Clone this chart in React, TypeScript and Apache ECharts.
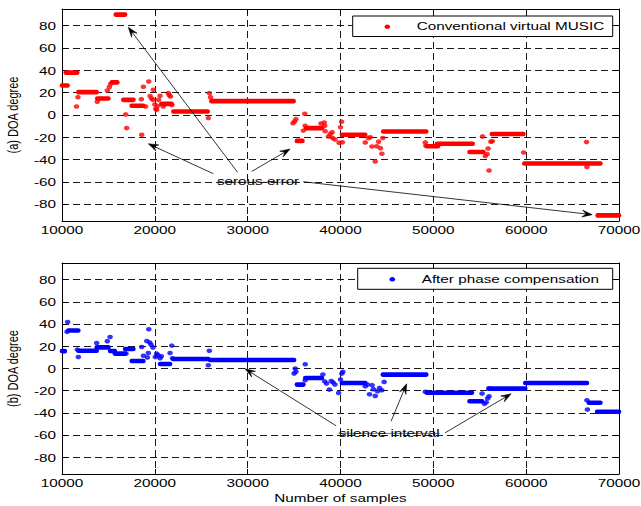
import React, { useEffect, useRef } from "react";
import * as echarts from "echarts";

// ---------------- data ----------------
const xTicks = [10000, 20000, 30000, 40000, 50000, 60000, 70000];
const yTicks = [-80, -60, -40, -20, 0, 20, 40, 60, 80];

const topName = "Conventional virtual MUSIC";
const bottomName = "After phase compensation";
const topYName = "(a) DOA degree";
const bottomYName = "(b) DOA degree";
const xName = "Number of samples";

// runs of dense estimates: [startSample, endSample, degree]
const musicRuns: [number, number, number][] = [
  [10000, 10600, 26.4], [10400, 11650, 38], [11760, 13740, 20.5], [13800, 15000, 14.8],
  [15360, 15960, 29.2], [15790, 16800, 90], [16600, 17700, 13.6], [17500, 18770, 8.3],
  [20700, 21800, 10], [22000, 25700, 3.2], [26100, 34950, 12.4], [35300, 35900, -23.2],
  [36300, 38000, -11.8], [40150, 42670, -17.7], [44600, 49240, -14.8], [49300, 50500, -28],
  [50400, 54240, -25.8], [53900, 55400, -33.2], [56300, 59700, -17], [59800, 68000, -43.5],
  [67700, 70000, -90],
];
const musicPoints: [number, number][] = [
  [11560, 7.6], [11720, 16], [13800, 11.8], [14880, 22], [15100, 25], [15250, 28],
  [16860, 0.5], [16970, -11.7], [18550, 14.2], [18590, -17.7], [18770, 25.3], [19000, 7.6],
  [19350, 30], [19490, 17], [19650, 14.8], [19840, 22.6], [19800, 13.6], [20000, 9.4],
  [20100, 5.5], [20200, 4.6], [20300, 8], [20400, 13.6], [20560, 17.2], [20900, 7.6],
  [21460, 19.6], [21550, 18], [21680, 16.6], [21850, 9], [25760, -2.8], [25870, 19.6],
  [26000, 16], [34880, -7.3], [35050, -5.9], [35200, -3.7], [36150, 1.1], [36000, -14],
  [36190, -9.7], [37900, -7.6], [38250, -6.7], [38300, -9.7], [38350, -14.5], [38700, -19.2],
  [38900, -17], [39100, -15.4], [39150, -20.7], [39400, -22], [39850, -24.8], [40000, -11],
  [40120, -6], [40200, -24.5], [42670, -24.6], [43000, -20.7], [43200, -20], [43390, -28.2],
  [43740, -41.6], [43900, -28], [44100, -23.9], [44300, -29.8], [44460, -34.7], [44560, -20.7],
  [49130, -24.6], [49200, -27.5], [55300, -19.2], [55600, -36.8], [55800, -35], [55900, -30],
  [56000, -49.7], [56200, -24], [56350, -23.5], [59730, -33.6], [66500, -24.3], [66550, -46.6],
];

const compRuns: [number, number, number][] = [
  [10000, 10300, 15.8], [10680, 11760, 34.2], [11760, 13740, 16], [13740, 15000, 19],
  [15180, 15690, 15.8], [15690, 16800, 13.4], [16800, 17690, 17.6], [17510, 18770, 6.8],
  [20560, 21640, 4], [21980, 25760, 8.6], [25950, 35000, 7.6], [35300, 36010, -14.5],
  [36200, 38000, -8.5], [40150, 42670, -13], [44560, 49240, -5.5], [49300, 54160, -21.8],
  [53900, 55250, -29.5], [55950, 59900, -18.1], [59900, 66550, -13], [66750, 68000, -30.8],
  [67640, 70000, -39],
];
const compPoints: [number, number][] = [
  [10250, 15.5], [10540, 33], [10610, 41.9], [11650, 17], [11760, 10.4], [13740, 23],
  [14880, 24.6], [15180, 28.4], [16900, 13.4], [18590, 19.4], [18770, 11.5], [19130, 24.8],
  [19300, 14], [19350, 35.3], [19450, 23.4], [19600, 21.4], [19800, 19], [19200, 10],
  [20050, 10.4], [20200, 13.4], [20350, 12], [20560, 9.2], [20700, 11], [21640, 14],
  [21820, 20.6], [21900, 9.2], [25760, 2.9], [25870, 16], [35000, -4.6], [35120, 0],
  [35200, -2.9], [36200, 3.8], [36200, -10.6], [38100, -5.5], [38300, -11.6], [38500, -13.6],
  [38800, -19], [39000, -11.3], [39200, -12.5], [39400, -14.5], [39800, -22], [40000, -10],
  [40150, -4.6], [40250, -3], [42670, -16], [42900, -14.5], [43130, -23.2], [43400, -15],
  [43550, -18.6], [43740, -24.7], [44000, -20.5], [44200, -17.5], [44450, -19.6], [44700, -12.1],
  [49130, -21], [55250, -22.6], [55500, -31.8], [55700, -30.5], [55850, -27], [56000, -25],
  [56000, -18], [66550, -28.6], [66600, -37],
];

// annotations (data coordinates)
const topNote = "serous error";
const topNoteAt: [number, number] = [31120, -59.8];
const topArrowFrom: [number, number][] = [[28910, -51.3], [26300, -52.6], [30440, -50.6], [35970, -59.8]];
const topArrowTo: [number, number][] = [[17140, 78.7], [19300, -25.8], [34570, -30.5], [67110, -89.3]];
const bottomNote = "silence interval";
const bottomNoteAt: [number, number] = [45240, -58];
const bottomArrowFrom: [number, number][] = [[39530, -51.6], [45450, -47.5], [51270, -57.9]];
const bottomArrowTo: [number, number][] = [[29720, -0.3], [47120, -13.8], [58380, -22.8]];

// ---------------- style / layout ----------------
const FONT = "Liberation Sans, Arial, sans-serif";
const SX = 1.39;
const RED = "#ff0000";
const BLUE = "#0000ff";
const GRID_COLOR = "#1a1a1a";
const GRIDS = [
  { left: 62, top: 9, width: 557, height: 212 },
  { left: 62, top: 263, width: 557, height: 211 },
];

function runSeries(name: string, data: [number, number, number][], axis: number, color: string) {
  return {
    type: "custom",
    name: name + " runs",
    xAxisIndex: axis,
    yAxisIndex: axis,
    clip: false,
    encode: { x: [0, 1], y: 2 },
    data,
    renderItem: (_p: any, api: any) => {
      const a = api.coord([api.value(0), api.value(2)]);
      const b = api.coord([api.value(1), api.value(2)]);
      return {
        type: "line",
        shape: { x1: a[0], y1: a[1], x2: b[0], y2: b[1] },
        style: { stroke: color, lineWidth: 4.6, lineCap: "round" },
      };
    },
  };
}

function xAxes(grid: number) {
  const base = {
    gridIndex: grid,
    type: "value",
    min: 10000,
    max: 70000,
    interval: 10000,
    axisLine: { show: true, onZero: false, lineStyle: { color: "#000", width: 1 } },
    axisTick: { show: true, inside: true, length: 5, lineStyle: { color: "#000" } },
    axisLabel: { show: false },
  };
  return [
    { ...base, position: "bottom", splitLine: { show: true, lineStyle: { color: GRID_COLOR, type: [7, 4], width: 1 } } },
    { ...base, position: "top", splitLine: { show: false } },
  ];
}
function yAxes(grid: number) {
  const base = {
    gridIndex: grid,
    type: "value",
    min: -95,
    max: 95,
    splitNumber: 10,
    axisLine: { show: true, onZero: false, lineStyle: { color: "#000", width: 1 } },
    axisTick: { show: true, inside: true, length: 5, lineStyle: { color: "#000" } },
    axisLabel: { show: false },
  };
  return [
    { ...base, position: "left", splitLine: { show: true, lineStyle: { color: GRID_COLOR, type: [7, 4], width: 1 } } },
    { ...base, position: "right", splitLine: { show: false } },
  ];
}

function textEl(text: string, x: number, y: number, align: string, extra: any = {}) {
  return {
    type: "text",
    x,
    y,
    scaleX: SX,
    z: 100,
    style: { text, fill: "#000", font: `11px ${FONT}`, textAlign: align, textVerticalAlign: "middle", verticalAlign: "middle" },
    ...extra,
  };
}

function arrowEls(p0: number[], p1: number[]) {
  const dx = p1[0] - p0[0];
  const dy = p1[1] - p0[1];
  const len = Math.hypot(dx, dy);
  const ux = dx / len, uy = dy / len;
  const nx = -uy, ny = ux;
  const L = 10, W = 3.4;
  const bx = p1[0] - L * ux, by = p1[1] - L * uy;
  const notch = [p1[0] - 0.6 * L * ux, p1[1] - 0.6 * L * uy];
  return [
    { type: "line", z: 90, shape: { x1: p0[0], y1: p0[1], x2: notch[0], y2: notch[1] }, style: { stroke: "#000", lineWidth: 0.8 } },
    {
      type: "polygon",
      z: 91,
      shape: { points: [[p1[0], p1[1]], [bx + W * nx, by + W * ny], notch, [bx - W * nx, by - W * ny]] },
      style: { fill: "#000", stroke: "#000", lineWidth: 0.6 },
    },
  ];
}

function measure(text: string) {
  const c = document.createElement("canvas").getContext("2d");
  if (!c) return text.length * 6;
  c.font = `11px ${FONT}`;
  return c.measureText(text).width;
}

export default function App() {
  const ref = useRef<HTMLDivElement>(null);
  useEffect(() => {
    document.body.style.margin = "0";
    const chart = echarts.init(ref.current!, null, { renderer: "svg" });
    chart.setOption({
      animation: false,
      backgroundColor: "#fff",
      grid: GRIDS.map((g) => ({ ...g, containLabel: false })),
      xAxis: [...xAxes(0), ...xAxes(1)],
      yAxis: [...yAxes(0), ...yAxes(1)],
      series: [
        runSeries(topName, musicRuns, 0, RED),
        { type: "scatter", name: topName, xAxisIndex: 0, yAxisIndex: 0, data: musicPoints, symbol: "circle", symbolSize: [5.6, 4.6], itemStyle: { color: RED }, silent: true },
        runSeries(bottomName, compRuns, 2, BLUE),
        { type: "scatter", name: bottomName, xAxisIndex: 2, yAxisIndex: 2, data: compPoints, symbol: "circle", symbolSize: [5.6, 4.6], itemStyle: { color: BLUE }, silent: true },
      ],
    });

    const els: any[] = [];
    const panels = [
      { axis: 0, name: topName, yName: topYName, color: RED, note: topNote, noteAt: topNoteAt, from: topArrowFrom, to: topArrowTo, legend: { x: 352.7, y: 16, w: 260, h: 20.5 } },
      { axis: 2, name: bottomName, yName: bottomYName, color: BLUE, note: bottomNote, noteAt: bottomNoteAt, from: bottomArrowFrom, to: bottomArrowTo, legend: { x: 357.7, y: 268.3, w: 255, h: 21 } },
    ];
    panels.forEach((p) => {
      const finder = { xAxisIndex: p.axis, yAxisIndex: p.axis };
      const px = (v: number[]) => chart.convertToPixel(finder as any, v) as number[];
      const bl = px([10000, -95]);
      const tr = px([70000, 95]);
      // tick labels
      xTicks.forEach((t) => {
        const q = px([t, -95]);
        els.push(textEl(String(t), q[0], bl[1] + 9.5, "center"));
      });
      yTicks.forEach((t) => {
        const q = px([10000, t]);
        els.push(textEl(String(t), bl[0] - 6, q[1] + 0.5, "right"));
      });
      // y axis name
      els.push({
        type: "text",
        x: 13,
        y: (bl[1] + tr[1]) / 2,
        rotation: Math.PI / 2,
        scaleY: SX,
        z: 100,
        style: { text: p.yName, fill: "#000", font: `11px ${FONT}`, textAlign: "center", textVerticalAlign: "middle", verticalAlign: "middle" },
      });
      // annotations
      p.from.forEach((f, i) => {
        els.push(...arrowEls(px(f), px(p.to[i])));
      });
      const n = px(p.noteAt);
      els.push(textEl(p.note, n[0], n[1], "center"));
      const w = measure(p.note) * SX;
      els.push({ type: "line", z: 101, shape: { x1: n[0] - w / 2, y1: n[1] + 0.5, x2: n[0] + w / 2, y2: n[1] + 0.5 }, style: { stroke: "#222", lineWidth: 0.6 } });
      // legend
      const L = p.legend;
      els.push({ type: "rect", z: 100, shape: { x: L.x, y: L.y, width: L.w, height: L.h }, style: { fill: "#fff", stroke: "#000", lineWidth: 1 } });
      els.push({ type: "ellipse", z: 101, shape: { cx: L.x + 34.6, cy: L.y + L.h / 2 + 0.5, rx: 2.8, ry: 2.3 }, style: { fill: p.color } });
      els.push(textEl(p.name, L.x + 64, L.y + L.h / 2, "left", { z: 101 }));
      if (p.axis === 2) {
        els.push(textEl(xName, (bl[0] + tr[0]) / 2, 498, "center"));
      }
    });
    chart.setOption({ graphic: els });
    return () => chart.dispose();
  }, []);
  return <div ref={ref} style={{ width: 641, height: 506 }} />;
}
